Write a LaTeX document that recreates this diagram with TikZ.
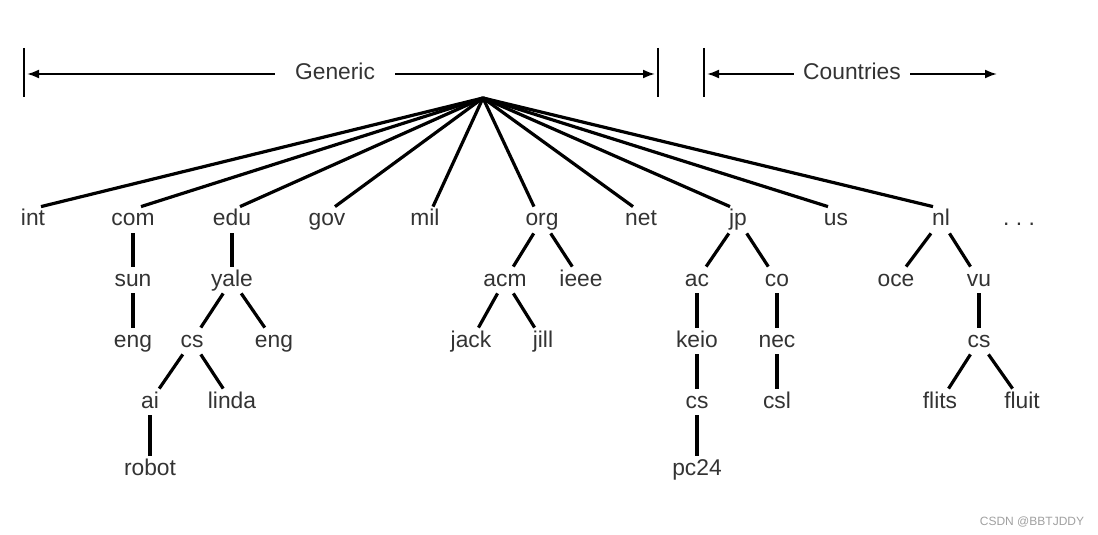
\documentclass[tikz,border=0pt]{standalone}
\usepackage{fontspec}
\setmainfont{Liberation Sans}
\usetikzlibrary{arrows.meta, calc}
\definecolor{textgray}{HTML}{333333}
\definecolor{markgray}{HTML}{A0A0A0}

\begin{document}
\begin{tikzpicture}[x=0.5pt, y=-0.5pt,
        lbl/.style={text=textgray, font=\fontsize{11.4}{13}\selectfont, inner sep=1pt,
                    text height=8.5pt, text depth=2.5pt, anchor=base},
        branch/.style={line width=1.6pt},
        span/.style={line width=1pt, -{Latex[length=6pt, width=4.5pt]}, shorten >=1.5pt},
        tick/.style={line width=1pt}]
    \useasboundingbox (0,0) rectangle (1098,535);

    \def\ya{226}
    \def\yb{286}
    \def\yc{347}
    \def\yd{408}
    \def\ye{475}

    \coordinate (root) at (483,98);
    \coordinate (genL) at (24,73);
    \coordinate (genR) at (658,73);
    \coordinate (ctyL) at (704,73);
    \coordinate (ctyR) at (1000,73);

    \foreach \c in {genL, genR, ctyL} {
        \draw[tick] (\c) ++(0,-25) -- ++(0,49);
    }

    \node[lbl, anchor=center, inner xsep=10pt] (generic) at (335,74) {Generic};
    \node[lbl, anchor=center, inner xsep=4.5pt] (countries) at (852,74) {Countries};
    \draw[span] (generic) -- (genL |- generic);
    \draw[span] (generic) -- (genR |- generic);
    \draw[span] (countries) -- (ctyL |- countries);
    \draw[span] (countries) -- (ctyR |- countries);

    \foreach \n/\x in {int/33, com/133, edu/232, gov/327, mil/425, org/542,
                       net/641, jp/738, us/836, nl/941} {
        \node[lbl] (\n) at (\x,\ya) {\n};
        \draw[branch] (root) -- ($(\n.north)!4pt!(\n.north -| root)$);
    }

    \foreach \n/\t/\x/\y/\p in {
            sun/sun/133/\yb/com, yale/yale/232/\yb/edu, acm/acm/505/\yb/org,
            ieee/ieee/581/\yb/org, ac/ac/697/\yb/jp, co/co/777/\yb/jp,
            oce/oce/896/\yb/nl, vu/vu/979/\yb/nl,
            engsun/eng/133/\yc/sun, csyale/cs/192/\yc/yale, engyale/eng/274/\yc/yale,
            jack/jack/471/\yc/acm, jill/jill/543/\yc/acm, keio/keio/697/\yc/ac,
            nec/nec/777/\yc/co, csvu/cs/979/\yc/vu,
            ai/ai/150/\yd/csyale, linda/linda/232/\yd/csyale, cskeio/cs/697/\yd/keio,
            csl/csl/777/\yd/nec, flits/flits/940/\yd/csvu, fluit/fluit/1022/\yd/csvu,
            robot/robot/150/\ye/ai, pc/pc24/697/\ye/cskeio} {
        \node[lbl] (\n) at (\x,\y) {\t};
        \draw[branch] (\p) -- (\n);
    }

    \node[lbl] (more) at (1019,\ya) {.\ .\ .};
    \node[text=markgray, font=\fontsize{6}{7}\selectfont, anchor=base] (mark) at (1032,525) {CSDN @BBTJDDY};
\end{tikzpicture}
\end{document}
